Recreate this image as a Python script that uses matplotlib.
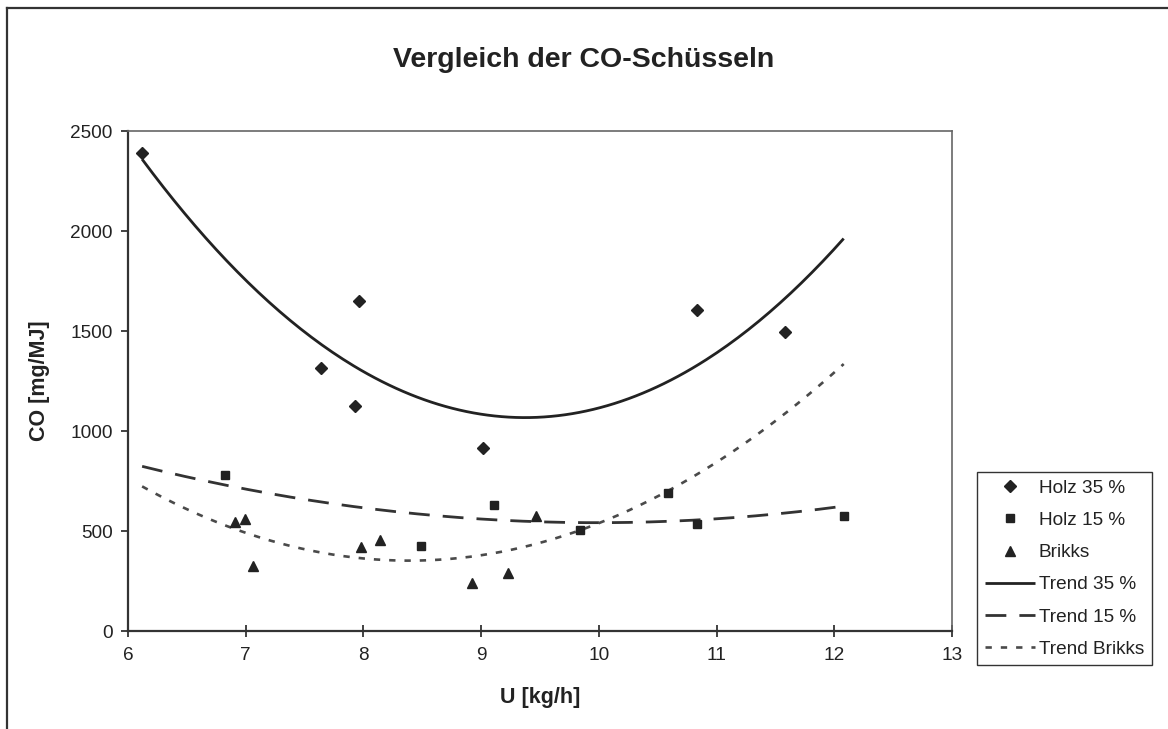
import numpy as np
import matplotlib
matplotlib.use('Agg')
import matplotlib.pyplot as plt
from matplotlib.lines import Line2D

plt.rcParams['font.family'] = ['Liberation Sans', 'DejaVu Sans']

# Holz 35 % (diamonds)
x_h35 = [6.12, 7.64, 7.96, 7.93, 9.02, 10.83, 11.58]
y_h35 = [2390, 1314, 1651, 1127, 914, 1604, 1495]

# Holz 15 % (squares)
x_h15 = [6.82, 8.49, 9.11, 9.84, 10.59, 10.83, 12.08]
y_h15 = [778, 424, 628, 506, 692, 536, 576]

# Brikks (triangles)
x_br = [6.91, 6.99, 7.06, 7.98, 8.14, 8.92, 9.23, 9.47]
y_br = [545, 558, 327, 418, 456, 241, 291, 577]

xticks = [6, 7, 8, 9, 10, 11, 12, 13]
yticks = [0, 500, 1000, 1500, 2000, 2500]

W, H = 1168, 729
fig = plt.figure(figsize=(W / 100, H / 100), dpi=100)
ax = fig.add_axes([128 / W, 1 - 631 / H, 824 / W, 500 / H])

dark = '#222222'

# polynomial (order 2) trend lines like Excel, over the shared x range
x_all = x_h35 + x_h15 + x_br
xs = np.linspace(min(x_all), max(x_all), 200)


def trend(x, y):
    c = np.polyfit(x, y, 2)
    return np.polyval(c, xs)


ax.plot(xs, trend(x_h35, y_h35), color=dark, lw=2.0, solid_capstyle='butt',
        label='Trend 35 %', zorder=2)
ax.plot(xs, trend(x_h15, y_h15), color='#333333', lw=2.0,
        dashes=(7.5, 4.7), label='Trend 15 %', zorder=2)
ax.plot(xs, trend(x_br, y_br), color='#4a4a4a', lw=1.9,
        dashes=(2.4, 3.4), label='Trend Brikks', zorder=2)

ax.plot(x_h35, y_h35, 'D', color=dark, ms=6.3, ls='none', label='Holz 35 %', zorder=3)
ax.plot(x_h15, y_h15, 's', color=dark, ms=6.3, ls='none', label='Holz 15 %', zorder=3)
ax.plot(x_br, y_br, '^', color=dark, ms=7.3, ls='none', label='Brikks', zorder=3)

ax.set_xlim(6, 13)
ax.set_ylim(0, 2500)
ax.set_xticks(xticks)
ax.set_yticks(yticks)
ax.tick_params(axis='x', direction='inout', length=9, width=1.2, colors=dark,
               labelsize=13.7, pad=7)
ax.tick_params(axis='y', direction='out', length=5, width=1.2, colors=dark,
               labelsize=13.7, pad=6)

for s in ['left', 'bottom']:
    ax.spines[s].set_color('#333333')
    ax.spines[s].set_linewidth(1.6)
for s in ['top', 'right']:
    ax.spines[s].set_color('#666666')
    ax.spines[s].set_linewidth(1.2)

ax.set_xlabel('U [kg/h]', fontsize=15.5, fontweight='bold', color=dark)
ax.xaxis.set_label_coords(0.5, -0.132)
ax.xaxis.label.set_verticalalignment('center')
ax.set_ylabel('CO [mg/MJ]', fontsize=15.5, fontweight='bold', color=dark)
ax.yaxis.set_label_coords(-0.107, 0.5)
ax.yaxis.label.set_verticalalignment('center')

fig.text(584 / W, 1 - 60 / H, 'Vergleich der CO-Schüsseln', ha='center', va='center',
         fontsize=20.5, fontweight='bold', color=dark)

# legend in the order of the reference
handles, labels = ax.get_legend_handles_labels()
order = ['Holz 35 %', 'Holz 15 %', 'Brikks', 'Trend 35 %', 'Trend 15 %', 'Trend Brikks']
hmap = dict(zip(labels, handles))
leg = fig.legend([hmap[k] for k in order], order, loc='upper left',
                 bbox_to_anchor=(977 / W, 1 - 472 / H), fontsize=13.7,
                 frameon=True, fancybox=False, framealpha=1, edgecolor='#333333',
                 handlelength=2.65, handletextpad=0.2, labelspacing=0.78,
                 borderpad=0.4, borderaxespad=0)
leg.get_frame().set_linewidth(1.0)
for t in leg.get_texts():
    t.set_color(dark)

# outer chart border (left and top visible)
fig.add_artist(Line2D([7 / W, 7 / W], [0, 1 - 8 / H], color='#333333', lw=1.6))
fig.add_artist(Line2D([7 / W, 1], [1 - 8 / H, 1 - 8 / H], color='#333333', lw=1.6))

fig.savefig('out.png', dpi=100)
